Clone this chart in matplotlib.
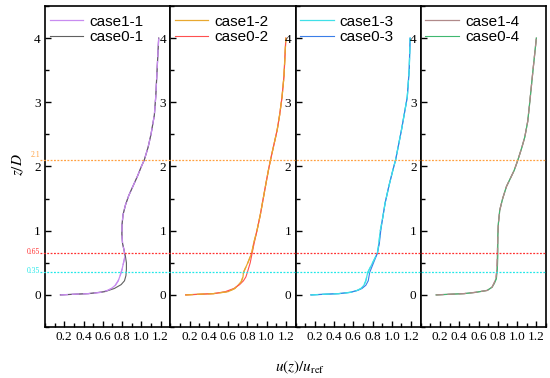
import matplotlib
matplotlib.use("Agg")
import matplotlib.pyplot as plt
from matplotlib.lines import Line2D
from matplotlib import transforms
from matplotlib.ticker import MultipleLocator

# ---------------- data ----------------
z_c11 = [0, 0.01, 0.02, 0.04, 0.07, 0.10, 0.15, 0.22, 0.30, 0.40, 0.50, 0.60, 0.70, 0.80, 0.95,
         1.10, 1.25, 1.40, 1.55, 1.70, 1.85, 2.0, 2.1, 2.3, 2.5, 2.8, 3.1, 3.4, 3.7, 4.0]
u_c11 = [0.16, 0.30, 0.45, 0.58, 0.65, 0.69, 0.73, 0.76, 0.78, 0.80, 0.815, 0.83, 0.82, 0.805, 0.798,
         0.80, 0.81, 0.835, 0.87, 0.915, 0.96, 1.00, 1.03, 1.07, 1.10, 1.135, 1.15, 1.16, 1.17, 1.18]
z_c01 = [0, 0.01, 0.02, 0.05, 0.10, 0.16, 0.22, 0.30, 0.40, 0.50, 0.60, 0.70, 0.80, 0.95,
         1.10, 1.25, 1.40, 1.55, 1.70, 1.85, 2.0, 2.1, 2.3, 2.5, 2.8, 3.1, 3.4, 3.7, 4.0]
u_c01 = [0.16, 0.30, 0.45, 0.62, 0.72, 0.79, 0.825, 0.84, 0.845, 0.845, 0.835, 0.82, 0.805, 0.798,
         0.80, 0.81, 0.835, 0.87, 0.915, 0.96, 1.00, 1.03, 1.07, 1.10, 1.135, 1.15, 1.16, 1.17, 1.18]

z_c12 = [0, 0.01, 0.02, 0.05, 0.10, 0.13, 0.20, 0.28, 0.35, 0.50, 0.65, 0.80, 1.0, 1.25, 1.5,
         1.75, 1.95, 2.1, 2.3, 2.57, 2.8, 3.08, 3.4, 3.7, 4.0]
u_c12 = [0.16, 0.30, 0.45, 0.60, 0.67, 0.69, 0.735, 0.755, 0.76, 0.805, 0.845, 0.865, 0.90, 0.935, 0.965,
         0.995, 1.02, 1.04, 1.07, 1.11, 1.135, 1.16, 1.18, 1.19, 1.20]
z_c02 = [0, 0.01, 0.02, 0.05, 0.10, 0.16, 0.22, 0.28, 0.35, 0.50, 0.65, 0.80, 1.0, 1.25, 1.5,
         1.75, 1.95, 2.1, 2.3, 2.57, 2.8, 3.08, 3.4, 3.7, 4.0]
u_c02 = [0.16, 0.30, 0.45, 0.57, 0.66, 0.72, 0.76, 0.785, 0.80, 0.83, 0.85, 0.87, 0.90, 0.935, 0.965,
         0.995, 1.02, 1.04, 1.07, 1.11, 1.135, 1.16, 1.18, 1.19, 1.20]

z_c13 = [0, 0.01, 0.02, 0.04, 0.07, 0.10, 0.15, 0.22, 0.35, 0.50, 0.65, 0.80, 1.0, 1.2, 1.43,
         1.7, 1.94, 2.11, 2.57, 3.08, 3.5, 4.0]
u_c13 = [0.16, 0.30, 0.45, 0.57, 0.64, 0.68, 0.71, 0.73, 0.75, 0.80, 0.85, 0.865, 0.88, 0.905, 0.93,
         0.97, 1.01, 1.04, 1.10, 1.16, 1.18, 1.19]
z_c03 = [0, 0.01, 0.02, 0.04, 0.07, 0.10, 0.15, 0.22, 0.35, 0.50, 0.65, 0.80, 1.0, 1.2, 1.43,
         1.7, 1.94, 2.11, 2.57, 3.08, 3.5, 4.0]
u_c03 = [0.16, 0.30, 0.45, 0.57, 0.645, 0.69, 0.73, 0.755, 0.77, 0.81, 0.85, 0.87, 0.885, 0.905, 0.93,
         0.97, 1.01, 1.04, 1.10, 1.16, 1.18, 1.19]

z_c14 = [0, 0.01, 0.02, 0.04, 0.07, 0.12, 0.18, 0.25, 0.39, 0.60, 0.91, 1.1, 1.32, 1.5, 1.69,
         1.94, 2.11, 2.3, 2.46, 2.7, 2.98, 3.5, 4.0]
u_c14 = [0.16, 0.30, 0.45, 0.57, 0.69, 0.74, 0.76, 0.78, 0.79, 0.795, 0.80, 0.805, 0.82, 0.85, 0.89,
         0.97, 1.01, 1.05, 1.08, 1.11, 1.13, 1.165, 1.20]
z_c04 = [0, 0.01, 0.02, 0.04, 0.07, 0.12, 0.18, 0.25, 0.39, 0.60, 0.91, 1.1, 1.32, 1.5, 1.69,
         1.94, 2.11, 2.3, 2.46, 2.7, 2.98, 3.5, 4.0]
u_c04 = [0.16, 0.30, 0.45, 0.57, 0.69, 0.74, 0.765, 0.785, 0.795, 0.80, 0.80, 0.805, 0.82, 0.85, 0.89,
         0.97, 1.01, 1.05, 1.08, 1.11, 1.13, 1.165, 1.20]

labels1 = ["case1-1", "case1-2", "case1-3", "case1-4"]
labels0 = ["case0-1", "case0-2", "case0-3", "case0-4"]
hline_levels = [2.1, 0.65, 0.35]
hline_texts = ["2.1", "0.65", "0.35"]
x_ticks = [0.2, 0.4, 0.6, 0.8, 1.0, 1.2]
y_ticks = [0, 1, 2, 3, 4]

# ---------------- style ----------------
colors1 = ["#c88cf0", "#e8a830", "#40e0e8", "#b08a8a"]
colors0 = ["#606060", "#ff5050", "#3a7ee8", "#40b870"]
hline_colors = ["#ffa040", "#ff3030", "#20e8e8"]
serif = ["Liberation Serif", "DejaVu Serif"]
sans = ["Liberation Sans", "DejaVu Sans"]

fig = plt.figure(figsize=(5.5, 3.78), dpi=100)
W, H = 550, 378
left, right, top, bottom = 45, 546, 6, 327
pw = (right - left) / 4

series = [(z_c11, u_c11, z_c01, u_c01), (z_c12, u_c12, z_c02, u_c02),
          (z_c13, u_c13, z_c03, u_c03), (z_c14, u_c14, z_c04, u_c04)]

axes = []
for i in range(4):
    ax = fig.add_axes([(left + i * pw) / W, 1 - bottom / H, pw / W, (bottom - top) / H])
    z1, u1, z0, u0 = series[i]
    ax.plot(u1, z1, color=colors1[i], lw=0.9, label=labels1[i])
    ax.plot(u0, z0, color=colors0[i], lw=0.8, label=labels0[i])
    ax.plot(u1, z1, color=colors1[i], lw=0.9, dashes=(6, 3))
    ax.set_xlim(0, 1.3)
    ax.set_ylim(-0.5, 4.5)
    ax.set_xticks(x_ticks)
    ax.set_xticklabels(["%.1f" % v for v in x_ticks])
    ax.xaxis.set_minor_locator(MultipleLocator(0.1))
    ax.set_yticks(y_ticks)
    ax.yaxis.set_minor_locator(MultipleLocator(0.5))
    ax.tick_params(which="both", direction="in", top=False, right=False, width=1.0)
    ax.tick_params(which="major", length=4, labelsize=9.5, pad=3)
    ax.tick_params(which="minor", length=3)
    for lab in ax.get_xticklabels() + ax.get_yticklabels():
        lab.set_fontfamily(serif)
    for s in ax.spines.values():
        s.set_linewidth(1.2)
    ax.legend(loc="upper left", bbox_to_anchor=(0.0, 1 - 4 / 321), frameon=False,
              handlelength=2.2, handletextpad=0.4, borderaxespad=0.1, borderpad=0.2,
              labelspacing=0.12, prop={"family": sans, "size": 11})
    axes.append(ax)

# horizontal reference lines across all panels
tr = transforms.blended_transform_factory(fig.transFigure, axes[0].transData)
for lvl, txt, c in zip(hline_levels, hline_texts, hline_colors):
    fig.add_artist(Line2D([40 / W, right / W], [lvl, lvl], transform=tr, color=c,
                          lw=0.9, linestyle=(0, (1.5, 1.2)), zorder=5))
    fig.text(40 / W, lvl + 0.02, txt, transform=tr, color=c, fontsize=5.5, ha="right",
             va="bottom" if lvl > 2 else "center", family=serif)

fig.text(18 / W, 1 - 165 / H, r"$z/D$", rotation=90, ha="center", va="center",
         fontsize=11, family=serif, math_fontfamily="stix")
fig.text(300 / W, 1 - 367 / H, r"$u(z)/u_{\mathrm{ref}}$", ha="center", va="center",
         fontsize=11, math_fontfamily="stix")

fig.savefig("out.png", dpi=100)
